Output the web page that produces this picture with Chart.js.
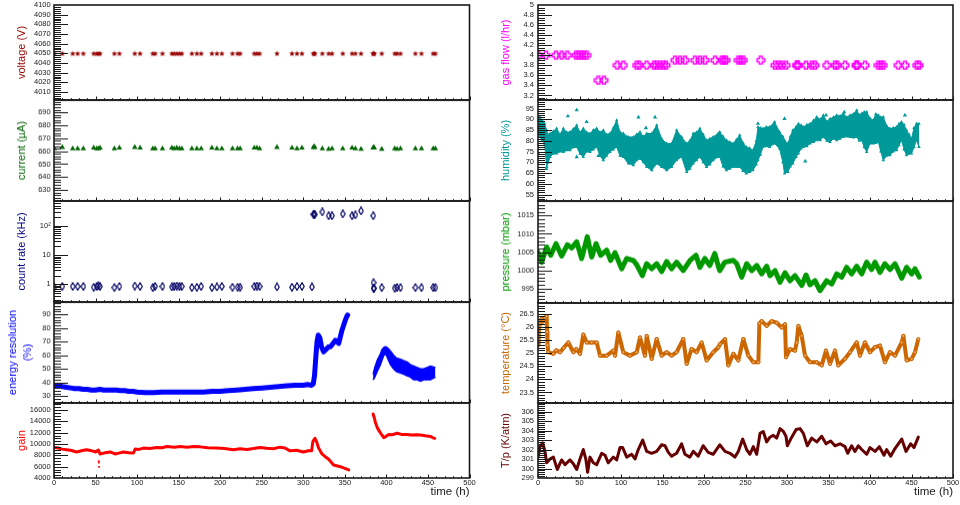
<!DOCTYPE html>
<html>
<head>
<meta charset="utf-8">
<script src="https://cdn.jsdelivr.net/npm/chart.js@4.4.0/dist/chart.umd.min.js"></script>
<style>
html, body { margin: 0; padding: 0; background: #fff; overflow: hidden; }
#wrap { position: relative; width: 960px; height: 505px; overflow: hidden; background: #fff; }
#wrap canvas { position: absolute; }
</style>
</head>
<body>
<div id="wrap"></div>
<script>
// ===== TICK LABELS =====
const timeTicks = [0, 50, 100, 150, 200, 250, 300, 350, 400, 450, 500];
const voltTicks = [4010, 4020, 4030, 4040, 4050, 4060, 4070, 4080, 4090, 4100];
const currTicks = [630, 640, 650, 660, 670, 680, 690];
const rateTicks = [1, 10, 100];
const resTicks = [30, 40, 50, 60, 70, 80, 90];
const gainTicks = [4000, 6000, 8000, 10000, 12000, 14000, 16000];
const flowTicks = [3.2, 3.4, 3.6, 3.8, 4, 4.2, 4.4, 4.6, 4.8, 5];
const humTicks = [55, 60, 65, 70, 75, 80, 85, 90, 95];
const presTicks = [995, 1000, 1005, 1010, 1015];
const tempTicks = [23.5, 24, 24.5, 25, 25.5, 26, 26.5];
const tpTicks = [299, 300, 301, 302, 303, 304, 305, 306];

// ===== HV READINGS (hours) =====
const hvTimes = [0.4, 10, 22.5, 28.5, 35.3, 47.8, 51.4, 53.4, 55.4, 72.7,
  78.7, 97.2, 103.6, 118.9, 121.7, 130.5, 141.8, 144.6, 147.8, 151,
  153.8, 165.9, 171.9, 177.1, 190, 196, 202, 214.8, 220.9, 224,
  241, 244.2, 247.4, 268.3, 286.4, 292.4, 298.4, 312.2, 313, 313.8,
  322.9, 330.5, 334.6, 347.5, 358.7, 362.7, 369.5, 384, 384.7, 385.4,
  394.4, 410, 412.9, 416.9, 434.9, 442.2, 456.3, 459];
const voltage = [4050, 4050, 4050, 4050, 4050, 4050, 4050, 4050, 4050, 4050,
  4050, 4050, 4050, 4050, 4050, 4050, 4050, 4050, 4050, 4050,
  4050, 4050, 4050, 4050, 4050, 4050, 4050, 4050, 4050, 4050,
  4050, 4050, 4050, 4050, 4050, 4050, 4050, 4050, 4050, 4050,
  4050, 4050, 4050, 4050, 4050, 4050, 4050, 4050, 4050, 4050,
  4050, 4050, 4050, 4050, 4050, 4050, 4050, 4050];
const current = [662, 663, 662, 662, 662, 662.5, 662, 662, 662.5, 662,
  662.5, 663, 662.5, 662, 662, 662, 662.5, 662, 662.5, 662,
  662, 662, 662, 662, 662.5, 662, 662, 662, 662, 662,
  662.5, 662.5, 662, 663, 662.5, 662, 662.5, 663, 663.5, 663,
  662, 661.5, 662, 662, 662.5, 662, 661.5, 662.5, 663, 662.5,
  661.5, 662, 661.5, 662, 662, 662, 662, 662];

// ===== COUNT RATE =====
const rateTimes = [0.4, 10, 22.5, 28.5, 35.3, 47.8, 51.4, 53.4, 55.4, 72.7,
  78.7, 97.2, 103.6, 118.9, 121.7, 130.5, 141.8, 144.6, 147.8, 151,
  153.8, 165.9, 171.9, 177.1, 190, 196, 202, 214.8, 220.9, 224,
  241, 244.2, 247.4, 268.3, 286.4, 292.4, 298.4, 310.4, 312.2, 313,
  313.8, 322.9, 330.5, 334.6, 347.5, 358.7, 362.7, 369.5, 384.2, 384.5,
  384.7, 385, 394.4, 410, 412.9, 416.9, 434.9, 442.2, 456.3, 459];
const countRate = [0.8, 0.85, 0.85, 0.85, 0.85, 0.8, 0.85, 0.9, 0.85, 0.78,
  0.85, 0.88, 0.85, 0.78, 0.85, 0.85, 0.82, 0.85, 0.88, 0.85,
  0.85, 0.78, 0.8, 0.85, 0.78, 0.82, 0.85, 0.8, 0.8, 0.8,
  0.85, 0.88, 0.85, 0.82, 0.8, 0.85, 0.85, 0.82, 250, 255,
  250, 305, 225, 225, 260, 225, 240, 330, 225, 1.15,
  0.75, 0.72, 0.78, 0.75, 0.78, 0.78, 0.78, 0.78, 0.78, 0.78];

// ===== ENERGY RESOLUTION =====
const resTimesA = [0, 3, 6, 10, 15, 20, 25, 30, 35, 40,
  45, 50, 55, 60, 65, 70, 75, 80, 85, 90,
  95, 100, 110, 120, 130, 140, 150, 160, 170, 180,
  190, 200, 210, 220, 230, 240, 250, 260, 270, 280,
  290, 300, 305, 310, 312, 313.5, 315, 316.5, 318, 320,
  322, 324.5, 327, 330, 332.5, 335, 338.5, 342.6, 346.6, 348.5,
  350.6, 352, 353.4];
const resA = [38, 38, 37.5, 37, 36.5, 36, 35.5, 35.5, 35, 35,
  34.5, 34.5, 35, 34.5, 34.5, 34.5, 34.5, 34, 34, 33.5,
  33.5, 33, 32.5, 32.5, 33, 33, 33, 33, 33, 33,
  33.5, 33.5, 34, 34.5, 35, 35.5, 36, 36.5, 37, 37.5,
  38, 38, 38.5, 38, 39, 45, 58, 70, 74.8, 72.6,
  66, 62.5, 64, 66, 66.2, 68, 71, 68.7, 78.5, 82,
  85.8, 88, 89.5];
const resTimesB = [384, 386, 388.8, 392.8, 395, 397.6, 400, 402.8, 405, 408.8,
  412, 416.9, 421, 425, 429, 432.9, 437, 441, 445, 449,
  453, 456, 459];
const resHighB = [46, 51, 56, 61, 64.5, 66, 66, 64.5, 63, 60,
  58, 57, 56, 55, 53, 52, 51, 50, 50, 51,
  52, 51.5, 51];
const resLowB = [42, 44, 48, 53, 57, 61, 60, 56, 53, 50,
  48, 47, 46, 45, 44, 42, 42, 41, 42, 42,
  42, 43, 44];

// ===== GAIN =====
const gainTimesA = [0, 5, 10, 15, 20, 27, 33, 39, 44, 47,
  50, 53.4, 55.4, 60, 67.5, 73.5, 78, 83.5, 90, 95.6,
  97.6, 102, 107.6, 115, 123.7, 130, 135.8, 145, 151.8, 160,
  168, 175.9, 185, 196, 205, 216, 224, 232, 240, 248,
  256, 264, 272, 278, 284, 292, 300, 306, 310, 311.5,
  314, 316, 318.4, 320, 322.5, 326, 330.5, 336.5, 344.6, 350,
  354.6];
const gainA = [9400, 9300, 9100, 9000, 8900, 8600, 8800, 8990, 8850, 8750,
  8600, 8950, 8250, 8400, 8600, 8250, 8400, 8600, 8450, 8420,
  9110, 9050, 9280, 9200, 9390, 9350, 9560, 9450, 9560, 9450,
  9550, 9500, 9350, 9280, 9200, 9000, 9170, 9050, 9200, 9390,
  9250, 9170, 9450, 9300, 8800, 8900, 8600, 8800, 8800, 10420,
  11000, 10400, 9300, 8900, 8250, 7800, 7300, 6300, 6000, 5700,
  5430];
const gainDipTimes = [53.8, 54, 54.2];
const gainDip = [6980, 6700, 5950];
const gainTimesB = [384, 385.5, 386.7, 389, 392, 394.5, 396.8, 400, 402.8, 407,
  412.9, 418, 425, 430, 436, 441, 445, 449, 453, 456,
  458.2];
const gainB = [15310, 14600, 13870, 12900, 12150, 11600, 11120, 11400, 11700, 11650,
  11900, 11700, 11700, 11600, 11650, 11600, 11500, 11400, 11350, 11100,
  11000];

// ===== GAS FLOW =====
const flowTimes = [0.4, 9.6, 21.7, 28.5, 35.3, 45.8, 49, 52.2, 55.4, 58.6,
  72.7, 79.5, 95.6, 102.8, 118.9, 122.1, 130.9, 139.8, 143, 147,
  151, 154.2, 165.1, 171.1, 177.1, 189.2, 195.2, 201.2, 213.3, 221.3,
  224.1, 226.5, 241.4, 244.2, 247.4, 268.3, 285.5, 289.6, 293.6, 298.8,
  311.8, 312.4, 313, 322.9, 329.7, 333.7, 347.8, 357.8, 360.6, 369.9,
  383.5, 384, 384.6, 394, 410, 413, 416.1, 434.1, 442.2, 456.3, 459];
const gasFlow = [4, 4, 4, 4, 4, 4, 4, 4, 4, 4,
  3.5, 3.5, 3.8, 3.8, 3.8, 3.8, 3.8, 3.8, 3.8, 3.8,
  3.8, 3.8, 3.9, 3.9, 3.9, 3.9, 3.9, 3.9, 3.9, 3.9,
  3.9, 3.9, 3.9, 3.9, 3.9, 3.9, 3.8, 3.8, 3.8, 3.8,
  3.8, 3.8, 3.8, 3.8, 3.8, 3.8, 3.8, 3.8, 3.8, 3.8,
  3.8, 3.8, 3.8, 3.8, 3.8, 3.8, 3.8, 3.8, 3.8, 3.8, 3.8];

// ===== HUMIDITY (band edges + stray points) =====
const humTimes = [0, 2, 5, 8, 10.4, 12.5, 14.5, 18.5, 22.5, 26.5,
  30.5, 34.5, 38.6, 42.6, 46.6, 50.6, 54.6, 58.6, 62.6, 66.7,
  70.7, 74.7, 78.7, 82.7, 86.7, 90.7, 94.8, 98.8, 102.8, 108.8,
  114.9, 118.9, 122.9, 127, 131, 137, 143, 149, 155, 161,
  167, 173, 179, 183, 187, 191, 195, 199, 203, 207,
  211, 217, 219, 223, 227, 231, 235, 239, 243, 247,
  251, 255, 259, 263, 265, 268, 271, 275, 279, 285,
  291, 295, 297, 301, 304, 307, 311, 313.7, 317, 319.7,
  324, 327.7, 332, 335.8, 340, 343.8, 348, 351.8, 356, 359.9,
  364, 367.9, 372, 375.9, 380, 384, 387, 390, 393, 396,
  400, 404, 407, 410, 413, 416, 420, 424, 428, 432,
  435, 438, 441, 444, 447, 450, 453, 456, 459];
const humHigh = [90.5, 91.1, 89.6, 88, 84.9, 82.6, 83.4, 84.5, 85.7, 83,
  85.7, 84, 84.1, 85.5, 87.2, 84, 85.7, 84, 83.4, 85,
  85.7, 84, 84.9, 83, 83.4, 86, 89.6, 84, 83.4, 81.8,
  81.8, 83, 84.1, 82, 83.4, 83.4, 87.2, 81, 78.7, 78.7,
  84.9, 81.8, 78.7, 80, 83.4, 84, 85.7, 83, 80.3, 81,
  81.8, 83.4, 84.1, 82, 80.3, 79.5, 78.7, 80.5, 82.6, 79,
  77.1, 76.5, 75.6, 80, 86.4, 86, 85.7, 86.4, 86.4, 88.8,
  84.1, 82, 80.3, 78.7, 82, 84.9, 86.5, 88, 87.2, 86.4,
  87.5, 88, 89.5, 91.1, 90, 91.9, 89, 90.3, 91, 91.9,
  91.5, 92.7, 91, 91.9, 92.5, 94.2, 92, 92.7, 93.4, 93.4,
  90.5, 89.6, 92.5, 91.9, 91, 91.1, 87, 85.7, 86, 86.4,
  88, 88.8, 87.5, 84.9, 83, 81, 86, 88, 88];
const humLow = [83.4, 82, 80.3, 78.7, 67.8, 70, 72.5, 74, 74.1, 75,
  74.8, 75.6, 75.6, 77, 77.1, 74, 72.5, 75, 74.8, 76,
  77.1, 73, 71, 73, 74.8, 76, 77.1, 73, 72.5, 69.4,
  68.6, 71, 71.7, 70, 67.8, 66.3, 69.4, 67.8, 66.3, 67.8,
  71, 72.5, 65.5, 67, 69.4, 71, 72.5, 70, 67.8, 69,
  71, 72.5, 72.5, 68, 66.3, 67, 67.8, 67.8, 67.8, 66,
  64.8, 65.5, 66.3, 69, 71, 73.5, 77.1, 77.5, 77.1, 78.7,
  76.4, 70, 64.8, 65.5, 68, 69.4, 72.5, 74.1, 76.4, 77.1,
  77.5, 78.7, 79.5, 80.3, 80.3, 81.8, 80, 79.5, 81, 80.3,
  81, 81.8, 82, 81.8, 81.5, 81.8, 80, 80.3, 77, 74.8,
  78.7, 78.7, 79, 79.5, 75, 71, 73, 73.3, 75, 75.6,
  78, 80.3, 76, 73.3, 74, 74.1, 77, 80.3, 77.1];
const humStrayTimes = [0.5, 10, 36, 46.6, 46.6, 58.6, 72.7, 121, 130, 141, 265, 297, 322, 347, 369, 442];
const humStray = [74, 67, 91.5, 94.3, 72.5, 88.8, 73, 91, 86, 91, 88, 90.3, 70.5, 91.9, 93.4, 91.9];

// ===== PRESSURE =====
const presTimes = [0, 4.4, 10.4, 15.3, 21.7, 28.5, 35.3, 40.6, 46.6, 52.6,
  59.4, 64.7, 69.9, 75.5, 82.7, 87.5, 92.8, 100.8, 106.8, 114.9,
  118.9, 125.7, 130.9, 137, 143, 149, 155, 161, 167, 175,
  183.1, 190.4, 195, 201, 207, 213, 217, 219, 225, 235.3,
  239.4, 245.4, 251.4, 257.5, 263.5, 269.5, 275.5, 279.5, 285.5, 291.6,
  297.6, 303.6, 309.6, 317.7, 322.9, 327.7, 333.7, 339.8, 347.8, 353.9,
  359.9, 365.9, 371.9, 377.9, 384, 390, 396, 402, 406, 412,
  418, 424.1, 430.1, 438.2, 444.2, 450.2, 454.2, 459.4];
const pressure = [1005, 1002.2, 1006.4, 1004.1, 1007.3, 1003.9, 1007, 1006.1, 1007.8, 1003.2,
  1009.2, 1003.6, 1007.3, 1004.1, 1005.5, 1002.7, 1004.8, 1000.4, 1003.2, 1002.7,
  1001.5, 998.5, 1001.8, 1000.4, 1001.8, 999.6, 1002.4, 1000.4, 1002.2, 999.9,
  1002.7, 1004.1, 1000.8, 1003.2, 1001.3, 1004.6, 1001.3, 999.9, 1002.2, 1002.7,
  1001.8, 998.1, 1001.8, 999.9, 1001.3, 999, 1001.1, 998.5, 999.9, 996.7,
  999.3, 997.1, 998.5, 995.8, 998.7, 996, 997.1, 994.4, 997.1, 996.2,
  999, 998.1, 1000.8, 999, 1001.1, 999, 1002.2, 1000.2, 1002.2, 999.4,
  1001.8, 1000.2, 1001.8, 997.8, 1000.8, 999, 1000.4, 998.1];

// ===== TEMPERATURE =====
const tempTimes = [0, 0.5, 1, 1.6, 3, 4.4, 6, 8.4, 10.4, 11,
  11.5, 12.4, 18.5, 22, 26.5, 31, 36.5, 42.6, 46, 50.6,
  54.6, 58.6, 64.7, 70.7, 74.7, 82.7, 90.7, 92.8, 96.8, 102.8,
  110.8, 118.9, 122.9, 128.9, 131, 137, 143, 149, 155, 161,
  167, 175, 179.1, 185, 191.2, 197.2, 203.2, 211.2, 217.3, 219.3,
  225.3, 229.3, 235.3, 241.3, 247.4, 253.4, 259.4, 265.5, 266.7, 269.5,
  275.5, 281.5, 287.6, 293.6, 297.6, 298.8, 303.6, 309.6, 311.6, 313.7,
  317.7, 321.7, 327.7, 335.8, 341.8, 347, 351.8, 357.8, 361.8, 369.9,
  375.9, 384, 387.9, 393.9, 400, 406, 412, 418, 424.1, 430.1,
  438.2, 440.2, 444.2, 450.2, 454.2, 458.2];
const temperature = [25.3, 26, 25.6, 26.15, 26.1, 26.3, 26.2, 26.34, 26.4, 25.8,
  25.3, 25.03, 24.97, 25.1, 25.03, 25.2, 25.4, 25.03, 25.15, 24.97,
  25.7, 25.4, 25.4, 25.4, 24.9, 24.9, 25.09, 24.9, 25.78, 25.03,
  24.9, 25.03, 25.59, 24.9, 25.65, 24.78, 25.53, 24.9, 25.03, 24.9,
  25.03, 25.53, 24.59, 25.15, 25.03, 25.4, 24.72, 25.03, 25.22, 25.34,
  25.53, 24.53, 24.97, 24.72, 25.53, 24.9, 24.65, 24.65, 26.12, 26.21,
  26.03, 26.21, 26.15, 25.97, 26.09, 24.84, 25.15, 25.09, 25.4, 26.03,
  25.65, 24.9, 24.65, 24.65, 24.53, 25.09, 24.59, 25.09, 24.53, 24.78,
  25.03, 25.4, 24.9, 25.4, 25.03, 25.22, 25.28, 24.65, 25.03, 24.9,
  25.4, 25.65, 24.72, 24.78, 25.03, 25.53];

// ===== T/p =====
const tpTimes = [0, 2.4, 5.6, 8.4, 10.4, 14.5, 18.5, 23.3, 28.5, 32.5,
  38.6, 42.6, 46.6, 50.6, 54.6, 57.8, 59.8, 62.6, 66.6, 70.7,
  76.7, 80.7, 84.7, 90.7, 94.8, 98.8, 102, 106.9, 112.9, 116.9,
  120.8, 126.1, 131, 137, 143, 149, 153, 157, 161, 167,
  173, 177, 183, 187, 193, 199, 205, 211, 215, 219,
  225.3, 231.3, 237.3, 241.3, 246.6, 251.4, 255.4, 259.4, 263.5, 267.5,
  271.4, 275.5, 279.5, 283.5, 287.6, 291.6, 295.6, 298.8, 300.4, 305.7,
  311, 315.7, 319.7, 324.5, 329.8, 335.8, 341.8, 347, 352.6, 357.8,
  363.9, 369.9, 373.1, 377.9, 381.9, 385.9, 390, 396, 400, 406,
  411.2, 416.9, 420, 424.9, 430.1, 438.2, 443.4, 449, 453, 458.2];
const tOverP = [301.2, 302.3, 302.7, 301.8, 300.6, 301, 301.2, 299.9, 300.9, 300.4,
  300.9, 300.5, 299.9, 301, 302, 300.9, 299.6, 301.2, 300.6, 300.4,
  301.6, 301.4, 300.6, 301.2, 300.9, 302.2, 302.2, 301.2, 301.5, 301,
  302, 303, 301.8, 301.6, 301.8, 302.5, 302.4, 301.7, 301.3, 301.6,
  302.6, 301.5, 301.2, 301.8, 301.3, 302.4, 301.7, 301.5, 302, 302.5,
  301.8, 301.6, 301.2, 301.8, 303.1, 302, 301.5, 302.3, 301.5, 303.7,
  303.9, 302.8, 303.3, 303.5, 303.2, 304.2, 303.9, 303.4, 302.4, 303.3,
  304.1, 304.2, 303.7, 302.4, 303.2, 302.8, 303.4, 302.6, 302.9, 302.4,
  302.6, 302.3, 301.6, 302.4, 301.8, 302.4, 302, 301.5, 302.2, 301.8,
  302.3, 301.4, 302, 301.3, 302.1, 303.1, 301.8, 302.6, 302.2, 303.3];

// ===== LAYOUT =====
const FONT = "'Liberation Sans', Arial, Helvetica, sans-serif";
const INK = '#1a1a1a';
const LEFT = { x: 0, w: 480, axisW: 54, padR: 10.5, tickPad: 3.3, titlePad: 14.5 };
const RIGHT = { x: 480, w: 490, axisW: 58, padR: 17, tickPad: 4, titlePad: 18.6 };
const wrap = document.getElementById('wrap');

const pts = (xs, ys) => xs.map((x, i) => ({ x: x, y: ys[i] }));

function steps(lo, hi, step) {
  const out = [];
  for (let k = Math.ceil(lo / step - 1e-9); k * step <= hi + 1e-9; k++) out.push(Math.round(k * step * 1e6) / 1e6);
  return out;
}
function logMinor(lo, hi) {
  const out = [];
  for (let e = -1; e <= 3; e++) for (let d = 1; d <= 9; d++) {
    const v = d * Math.pow(10, e);
    if (v >= lo && v <= hi) out.push(v);
  }
  return out;
}

// ===== MARKERS =====
function starImg(color, r) {
  const s = Math.ceil(r * 2 + 2), c = document.createElement('canvas');
  c.width = c.height = s;
  const g = c.getContext('2d');
  g.fillStyle = color;
  g.beginPath();
  for (let i = 0; i < 10; i++) {
    const rr = i % 2 ? r * 0.45 : r, a = -Math.PI / 2 + i * Math.PI / 5;
    g.lineTo(s / 2 + rr * Math.cos(a), s / 2 + 0.4 + rr * Math.sin(a));
  }
  g.closePath();
  g.fill();
  return c;
}
function diamondImg(color) {
  const c = document.createElement('canvas');
  c.width = 6; c.height = 9;
  const g = c.getContext('2d');
  g.strokeStyle = color; g.lineWidth = 1.2;
  g.beginPath();
  g.moveTo(3, 0.8); g.lineTo(5.2, 4.5); g.lineTo(3, 8.2); g.lineTo(0.8, 4.5);
  g.closePath();
  g.stroke();
  return c;
}
function crossImg(color) {
  const c = document.createElement('canvas');
  c.width = c.height = 10;
  const g = c.getContext('2d'), m = 5, L = 3.8, A = 1.5;
  g.strokeStyle = color; g.lineWidth = 1.4;
  g.beginPath();
  [[-A, -L], [A, -L], [A, -A], [L, -A], [L, A], [A, A], [A, L], [-A, L], [-A, A], [-L, A], [-L, -A], [-A, -A]]
    .forEach(([dx, dy], i) => i ? g.lineTo(m + dx, m + dy) : g.moveTo(m + dx, m + dy));
  g.closePath();
  g.stroke();
  return c;
}

// ROOT-like frame: inward ticks on left axis and along the bottom edge
const rootFrame = {
  id: 'rootFrame',
  afterDatasetsDraw(chart, args, o) {
    const { ctx, chartArea: a } = chart;
    const x = chart.scales.x, y = chart.scales.y;
    ctx.save();
    ctx.strokeStyle = INK;
    ctx.lineWidth = 1;
    ctx.beginPath();
    const hTick = (v, len) => {
      const p = Math.round(y.getPixelForValue(v)) + 0.5;
      if (p < a.top + 1 || p > a.bottom - 1) return;
      ctx.moveTo(a.left, p); ctx.lineTo(a.left + len, p);
    };
    o.minor.forEach(v => hTick(v, 7));
    o.major.forEach(v => hTick(v, 14));
    steps(0, 500, 10).forEach(v => {
      const p = Math.round(x.getPixelForValue(v)) + 0.5;
      const len = v % 50 === 0 ? 3.5 : 1.8;
      ctx.moveTo(p, a.bottom); ctx.lineTo(p, a.bottom - len);
    });
    ctx.stroke();
    ctx.lineWidth = 1.6;
    ctx.strokeRect(a.left, a.top, a.right - a.left, a.bottom - a.top);
    ctx.restore();
  }
};

function makePanel(p) {
  const col = p.col;
  const isBottom = !!p.bottomAxis;
  const top = p.top - 10;
  const h = isBottom ? 505 - top : p.bottom - p.top + 20;
  const cv = document.createElement('canvas');
  cv.width = col.w; cv.height = h;
  cv.style.left = col.x + 'px'; cv.style.top = top + 'px';
  cv.style.width = col.w + 'px'; cv.style.height = h + 'px';
  wrap.appendChild(cv);

  new Chart(cv, {
    type: 'line',
    data: { datasets: p.datasets },
    options: {
      responsive: false,
      animation: false,
      devicePixelRatio: 1,
      layout: { padding: { left: 0, right: col.padR, top: 10, bottom: isBottom ? 0 : 10 } },
      plugins: {
        legend: { display: false },
        tooltip: { enabled: false },
        rootFrame: { major: p.ticks, minor: p.minor }
      },
      scales: {
        x: {
          type: 'linear', min: 0, max: 500, display: isBottom,
          afterFit: s => { if (isBottom) s.height = 27; },
          afterBuildTicks: s => { s.ticks = timeTicks.map(v => ({ value: v })); },
          grid: { display: false, drawTicks: false, tickLength: 0 }, border: { display: false },
          ticks: { autoSkip: false, maxRotation: 0, padding: 0, color: INK, font: { family: FONT, size: 7.5 }, callback: v => String(v) },
          title: { display: true, text: 'time (h)', align: 'end', color: INK, font: { family: FONT, size: 11.5, lineHeight: 1.2 }, padding: { top: 0, bottom: 6 } }
        },
        y: {
          type: p.log ? 'logarithmic' : 'linear', min: p.min, max: p.max,
          afterFit: s => { s.width = col.axisW; },
          afterBuildTicks: s => { s.ticks = p.ticks.map(v => ({ value: v })); },
          grid: { display: false, drawTicks: false, tickLength: 0 }, border: { display: false },
          ticks: { autoSkip: false, padding: col.tickPad, color: INK, font: { family: FONT, size: 7.5 }, callback: p.label || (v => String(v)) },
          title: { display: true, text: p.title, color: p.titleColor, font: { family: FONT, size: 11, lineHeight: 1.3 }, padding: { top: p.titlePad !== undefined ? p.titlePad : col.titlePad, bottom: 0 } }
        }
      }
    },
    plugins: [rootFrame]
  });
}

const markers = (data, color, style, r) => ({ data, showLine: false, pointStyle: style, pointRadius: r, pointBackgroundColor: color, pointBorderColor: color, pointBorderWidth: 0 });
const thickLine = (data, color, w) => ({ data, borderColor: color, borderWidth: w, borderCapStyle: 'round', borderJoinStyle: 'round', pointRadius: 0, fill: false });

// ===== LEFT COLUMN =====
makePanel({
  col: LEFT, top: 5, bottom: 100, min: 4001.7, max: 4100,
  ticks: voltTicks, minor: steps(4001.7, 4100, 2),
  title: 'voltage (V)', titleColor: '#990000',
  datasets: [markers(pts(hvTimes, voltage), '#990000', starImg('#990000', 3), 3)]
});
makePanel({
  col: LEFT, top: 100, bottom: 200.5, min: 621.5, max: 699.5,
  ticks: currTicks, minor: steps(621.5, 699.5, 2),
  title: 'current (\u00B5A)', titleColor: '#006600',
  datasets: [markers(pts(hvTimes, current), '#006600', 'triangle', 3.2)]
});
makePanel({
  col: LEFT, top: 200.5, bottom: 302, min: 0.25, max: 720, log: true,
  ticks: rateTicks, minor: logMinor(0.25, 720),
  label: v => (v === 100 ? '10\u00B2' : String(v)),
  title: 'count rate (kHz)', titleColor: '#000080',
  datasets: [markers(pts(rateTimes, countRate), '#000066', diamondImg('#000066'), 3)]
});
makePanel({
  col: LEFT, top: 302, bottom: 402.5, min: 25, max: 99,
  ticks: resTicks, minor: steps(25, 99, 2),
  title: ['energy resolution', '(%)'], titleColor: '#0000ff', titlePad: 6.2,
  datasets: [
    thickLine(pts(resTimesA, resA), '#0000ff', 5),
    { data: pts(resTimesB, resHighB), borderColor: '#0000ff', borderWidth: 1.5, pointRadius: 0, fill: false },
    { data: pts(resTimesB, resLowB), borderColor: '#0000ff', borderWidth: 1.5, pointRadius: 0, fill: '-1', backgroundColor: '#0000ff' }
  ]
});
makePanel({
  col: LEFT, top: 402.5, bottom: 478, min: 4000, max: 17250, bottomAxis: true,
  ticks: gainTicks, minor: steps(4000, 17250, 500),
  title: 'gain', titleColor: '#ff0000',
  datasets: [
    thickLine(pts(gainTimesA, gainA), '#ff0000', 3),
    thickLine(pts(gainTimesB, gainB), '#ff0000', 3),
    markers(pts(gainDipTimes, gainDip), '#ff0000', 'rect', 1.2)
  ]
});

// ===== RIGHT COLUMN =====
makePanel({
  col: RIGHT, top: 5, bottom: 100, min: 3.11, max: 5,
  ticks: flowTicks, minor: steps(3.11, 5, 0.05),
  title: 'gas flow (l/hr)', titleColor: '#ff00ff',
  datasets: [markers(pts(flowTimes, gasFlow), '#ff00ff', crossImg('#ff00ff'), 4)]
});
makePanel({
  col: RIGHT, top: 100, bottom: 201, min: 52, max: 99,
  ticks: humTicks, minor: steps(52, 99, 1),
  title: 'humidity (%)', titleColor: '#009999',
  datasets: [
    { data: pts(humTimes, humHigh), borderColor: '#009999', borderWidth: 1, pointStyle: 'triangle', pointRadius: 2, pointBackgroundColor: '#009999', pointBorderWidth: 0, fill: false },
    { data: pts(humTimes, humLow), borderColor: '#009999', borderWidth: 1, pointStyle: 'triangle', pointRadius: 2, pointBackgroundColor: '#009999', pointBorderWidth: 0, fill: '-1', backgroundColor: '#009999' },
    markers(pts(humStrayTimes, humStray), '#009999', 'triangle', 2.4)
  ]
});
makePanel({
  col: RIGHT, top: 201, bottom: 302.5, min: 991, max: 1019,
  ticks: presTicks, minor: steps(991, 1019, 1),
  title: 'pressure (mbar)', titleColor: '#009900',
  datasets: [thickLine(pts(presTimes, pressure), '#009900', 5)]
});
makePanel({
  col: RIGHT, top: 302.5, bottom: 403, min: 23.1, max: 26.9,
  ticks: tempTicks, minor: steps(23.1, 26.9, 0.1),
  title: 'temperature (\u00B0C)', titleColor: '#cc6600',
  datasets: [{
    data: pts(tempTimes, temperature), borderColor: '#cc6600', borderWidth: 4, borderJoinStyle: 'round',
    pointStyle: 'circle', pointRadius: 1.6, pointBorderColor: '#cc6600', pointBackgroundColor: '#e9a766', pointBorderWidth: 1, fill: false
  }]
});
makePanel({
  col: RIGHT, top: 403, bottom: 478, min: 299, max: 306.9, bottomAxis: true,
  ticks: tpTicks, minor: steps(299, 306.9, 0.2),
  title: 'T/p (K/atm)', titleColor: '#660000',
  datasets: [thickLine(pts(tpTimes, tOverP), '#660000', 3)]
});
</script>
</body>
</html>
